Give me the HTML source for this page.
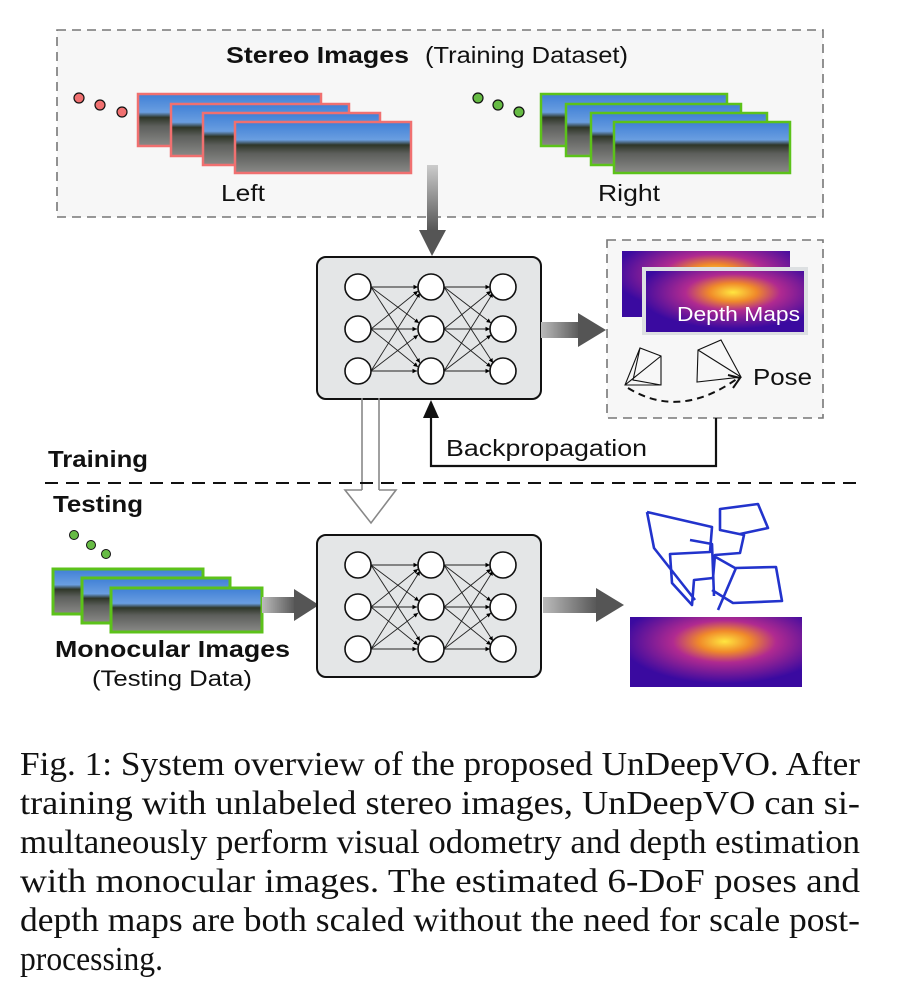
<!DOCTYPE html>
<html><head><meta charset="utf-8"><style>
html,body{margin:0;padding:0;background:#fff}
svg{display:block}
</style></head><body>
<div style="position:relative;width:899px;height:1008px">
<svg width="899" height="1008" viewBox="0 0 899 1008" xmlns="http://www.w3.org/2000/svg" font-family="Liberation Sans, sans-serif">
<defs>
<linearGradient id="photo" x1="0" y1="0" x2="0" y2="1">
<stop offset="0" stop-color="#3f7fd6"/><stop offset="0.35" stop-color="#6a9ee0"/><stop offset="0.45" stop-color="#2e3628"/><stop offset="0.62" stop-color="#5d5f5c"/><stop offset="1" stop-color="#8a8a88"/>
</linearGradient>
<radialGradient id="depth" cx="0.55" cy="0.35" r="0.6">
<stop offset="0" stop-color="#ffe640"/><stop offset="0.25" stop-color="#f08a2a"/><stop offset="0.5" stop-color="#b02a90"/><stop offset="1" stop-color="#3a0aa0"/>
</radialGradient>
<linearGradient id="garr" x1="0" y1="0" x2="1" y2="0"><stop offset="0" stop-color="#bbb"/><stop offset="1" stop-color="#555"/></linearGradient>
<linearGradient id="garrv" x1="0" y1="0" x2="0" y2="1"><stop offset="0" stop-color="#ccc"/><stop offset="1" stop-color="#555"/></linearGradient>
<marker id="ah" markerWidth="6" markerHeight="6" refX="5" refY="3" orient="auto"><path d="M0,0.5 L5,3 L0,5.5z" fill="#000"/></marker>
<g id="net">
<rect x="0" y="0" width="224" height="142" rx="9" fill="#e4e6e7" stroke="#111" stroke-width="2"/>
<g stroke="#222" stroke-width="0.9" marker-end="url(#ah)">
<line x1="54" y1="30" x2="101" y2="30"/><line x1="54" y1="30" x2="102" y2="66"/><line x1="54" y1="30" x2="103" y2="106"/>
<line x1="54" y1="72" x2="101" y2="34"/><line x1="54" y1="72" x2="100" y2="72"/><line x1="54" y1="72" x2="101" y2="110"/>
<line x1="54" y1="114" x2="103" y2="36"/><line x1="54" y1="114" x2="101" y2="78"/><line x1="54" y1="114" x2="100" y2="114"/>
<line x1="127" y1="30" x2="173" y2="30"/><line x1="127" y1="30" x2="174" y2="66"/><line x1="127" y1="30" x2="176" y2="106"/>
<line x1="127" y1="72" x2="174" y2="34"/><line x1="127" y1="72" x2="173" y2="72"/><line x1="127" y1="72" x2="174" y2="110"/>
<line x1="127" y1="114" x2="176" y2="36"/><line x1="127" y1="114" x2="174" y2="78"/><line x1="127" y1="114" x2="173" y2="114"/>
</g>
<g fill="#fff" stroke="#111" stroke-width="1.6">
<circle cx="41" cy="30" r="13"/><circle cx="41" cy="72" r="13"/><circle cx="41" cy="114" r="13"/>
<circle cx="114" cy="30" r="13"/><circle cx="114" cy="72" r="13"/><circle cx="114" cy="114" r="13"/>
<circle cx="186" cy="30" r="13"/><circle cx="186" cy="72" r="13"/><circle cx="186" cy="114" r="13"/>
</g>
</g>
</defs>

<rect x="57" y="30" width="766" height="187" fill="#f7f7f7" stroke="#777" stroke-width="1.6" stroke-dasharray="9,6"/>
<text x="226" y="63" font-size="23" font-weight="bold" fill="#111" textLength="183" lengthAdjust="spacingAndGlyphs">Stereo Images</text>
<text x="425" y="63" font-size="23" fill="#111" textLength="203" lengthAdjust="spacingAndGlyphs">(Training Dataset)</text>
<g stroke="#111" stroke-width="1.2">
<circle cx="79" cy="98" r="5" fill="#f07070"/><circle cx="100" cy="105" r="5" fill="#f07070"/><circle cx="122" cy="112" r="5" fill="#f07070"/>
<circle cx="478" cy="98" r="5" fill="#66bb44"/><circle cx="498" cy="105" r="5" fill="#66bb44"/><circle cx="519" cy="112" r="5" fill="#66bb44"/>
</g>
<g stroke="#f07070" stroke-width="2.5" fill="url(#photo)">
<rect x="138" y="94" width="183" height="52"/><rect x="171" y="104" width="178" height="52"/><rect x="203" y="113" width="177" height="52"/><rect x="235" y="122" width="176" height="51"/>
</g>
<g stroke="#5cc21a" stroke-width="2.5" fill="url(#photo)">
<rect x="541" y="94" width="186" height="52"/><rect x="566" y="104" width="175" height="52"/><rect x="591" y="113" width="176" height="52"/><rect x="614" y="122" width="176" height="51"/>
</g>
<text x="221" y="201" font-size="23" fill="#111" textLength="44" lengthAdjust="spacingAndGlyphs">Left</text>
<text x="598" y="201" font-size="23" fill="#111" textLength="62" lengthAdjust="spacingAndGlyphs">Right</text>

<rect x="427" y="165" width="11" height="66" fill="url(#garrv)"/>
<path d="M419,230 L446,230 L432,256z" fill="#555"/>

<use href="#net" x="317" y="257"/>

<rect x="541" y="322" width="40" height="16" fill="url(#garr)"/>
<path d="M578,313 L606,330 L578,347z" fill="#555"/>

<rect x="607" y="240" width="216" height="178" fill="#f7f7f7" stroke="#777" stroke-width="1.6" stroke-dasharray="9,6"/>
<rect x="622" y="251" width="168" height="66" fill="url(#depth)"/>
<rect x="642" y="267" width="166" height="68" fill="#dde0e2"/>
<rect x="646" y="271" width="158" height="61" fill="url(#depth)"/>
<text x="677" y="321" font-size="20" fill="#fff" textLength="123" lengthAdjust="spacingAndGlyphs">Depth Maps</text>
<g fill="none" stroke="#111" stroke-width="1.1">
<path d="M625,385 L640,348 L661,356 L661,385 Z M625,385 L661,356 M640,348 L633,380 L661,385"/>
<path d="M697,382 L698,350 L721,340 L741,377 Z M698,350 L741,377 M697,382 L741,377"/>
</g>
<path d="M628,388 Q680,420 738,378" fill="none" stroke="#111" stroke-width="2" stroke-dasharray="7,5"/>
<path d="M728,375 L740,378 L733,388" fill="none" stroke="#111" stroke-width="2"/>
<text x="753" y="385" font-size="23" fill="#111" textLength="59" lengthAdjust="spacingAndGlyphs">Pose</text>

<path d="M716,418 L716,466 L431,466 L431,415" fill="none" stroke="#111" stroke-width="2.2"/>
<path d="M423,418 L439,418 L431,400z" fill="#111"/>
<text x="446" y="456" font-size="23" fill="#111" textLength="201" lengthAdjust="spacingAndGlyphs">Backpropagation</text>

<line x1="362" y1="398" x2="362" y2="490" stroke="#888" stroke-width="1.6"/>
<line x1="379" y1="398" x2="379" y2="490" stroke="#888" stroke-width="1.6"/>
<path d="M362,490 L345,490 L371,523 L396,490 L379,490" fill="#fff" stroke="#888" stroke-width="1.6"/>

<text x="48" y="467" font-size="23" font-weight="bold" fill="#111" textLength="100" lengthAdjust="spacingAndGlyphs">Training</text>
<line x1="45" y1="483" x2="862" y2="483" stroke="#111" stroke-width="2" stroke-dasharray="13,8"/>
<text x="53" y="512" font-size="23" font-weight="bold" fill="#111" textLength="90" lengthAdjust="spacingAndGlyphs">Testing</text>

<g stroke="#111" stroke-width="1"><circle cx="74" cy="535" r="4.5" fill="#66bb44"/><circle cx="91" cy="545" r="4.5" fill="#66bb44"/><circle cx="106" cy="554" r="4.5" fill="#66bb44"/></g>
<g stroke="#5cc21a" stroke-width="3" fill="url(#photo)">
<rect x="53" y="569" width="150" height="45"/><rect x="82" y="578" width="148" height="45"/><rect x="111" y="588" width="151" height="44"/>
</g>
<text x="55" y="657" font-size="23" font-weight="bold" fill="#111" textLength="235" lengthAdjust="spacingAndGlyphs">Monocular Images</text>
<text x="92" y="686" font-size="22" fill="#111" textLength="160" lengthAdjust="spacingAndGlyphs">(Testing Data)</text>

<rect x="262" y="597" width="34" height="16" fill="url(#garr)"/>
<path d="M294,589 L319,605 L294,621z" fill="#555"/>

<use href="#net" x="317" y="535"/>

<rect x="543" y="597" width="55" height="16" fill="url(#garr)"/>
<path d="M596,588 L624,605 L596,622z" fill="#555"/>

<g fill="none" stroke="#2233cc" stroke-width="2.6" stroke-linejoin="round">
<path d="M647,512 L712,527 L710,552 L670,554 L672,583 L692,605 L694,580 L713,578 L715,555 L740,553 L744,535 L720,530 L720,509 L758,504 L768,528 L740,534 M690,540 L712,544 L714,596 M712,555 L735,568 L776,567 L782,601 L733,603 L712,590 M647,512 L654,548 L695,600 M736,568 L718,610"/>
</g>
<rect x="630" y="617" width="172" height="70" fill="url(#depth)"/>

<g font-family="Liberation Serif, serif" font-size="34" fill="#111" lengthAdjust="spacingAndGlyphs">
<text x="20" y="775" textLength="840" lengthAdjust="spacingAndGlyphs">Fig. 1: System overview of the proposed UnDeepVO. After</text>
<text x="20" y="814" textLength="840" lengthAdjust="spacingAndGlyphs">training with unlabeled stereo images, UnDeepVO can si-</text>
<text x="20" y="853" textLength="840" lengthAdjust="spacingAndGlyphs">multaneously perform visual odometry and depth estimation</text>
<text x="20" y="892" textLength="840" lengthAdjust="spacingAndGlyphs">with monocular images. The estimated 6-DoF poses and</text>
<text x="20" y="931" textLength="840" lengthAdjust="spacingAndGlyphs">depth maps are both scaled without the need for scale post-</text>
<text x="20" y="970" textLength="143" lengthAdjust="spacingAndGlyphs">processing.</text>
</g>
</svg>
</div>
</body></html>
